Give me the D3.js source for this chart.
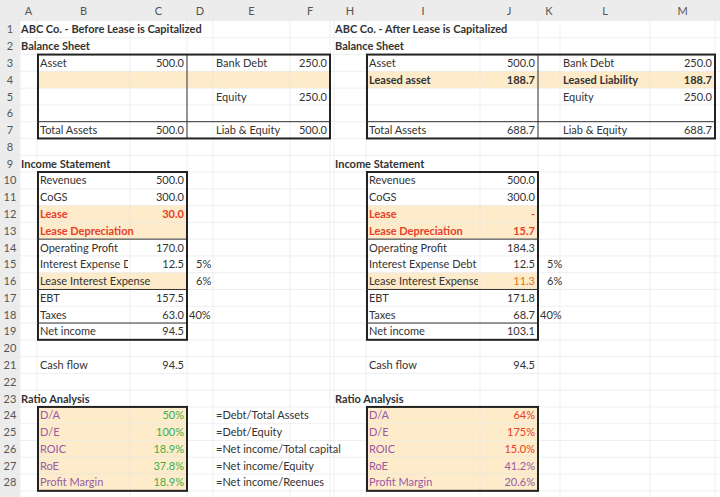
<!DOCTYPE html><html><head><meta charset="utf-8">
<script src="https://cdn.jsdelivr.net/npm/d3@7"></script>
<style>body{margin:0;background:#fff}text{font-family:Lato,"Open Sans",sans-serif;font-size:11px}</style></head><body>
<svg id="c" width="720" height="497"></svg>
<script>
const colLetters=["A","B","C","D","E","F","G","H","I","J","K","L","M"];
const colEdges=[20,37,130,187,213,290,330,334,366,480,538,560,650,715];
const titles=[["A",1,"ABC Co. - Before Lease is Capitalized"],["A",2,"Balance Sheet"],["A",9,"Income Statement"],["A",23,"Ratio Analysis"],
 ["H",1,"ABC Co. - After Lease is Capitalized"],["H",2,"Balance Sheet"],["H",9,"Income Statement"],["H",23,"Ratio Analysis"]];
const bsLeftLabels=["Asset","","","","Total Assets"], bsLeftValues=["500.0","","","","500.0"];
const bsLeftLiab=["Bank Debt","","Equity","","Liab & Equity"], bsLeftLiabV=["250.0","","250.0","","500.0"];
const bsRightLabels=["Asset","Leased asset","","","Total Assets"], bsRightValues=["500.0","188.7","","","688.7"];
const bsRightLiab=["Bank Debt","Leased Liability","Equity","","Liab & Equity"], bsRightLiabV=["250.0","188.7","250.0","","688.7"];
const isLabels=["Revenues","CoGS","Lease","Lease Depreciation","Operating Profit","Interest Expense Debt","Lease Interest Expense","EBT","Taxes","Net income"];
const isLeftValues=["500.0","300.0","30.0","","170.0","12.5","","157.5","63.0","94.5"];
const isRightValues=["500.0","300.0","-","15.7","184.3","12.5","11.3","171.8","68.7","103.1"];
const rates=[[15,"5%"],[16,"6%"],[18,"40%"]];
const cashFlow=["94.5","94.5"];
const ratioLabels=["D/A","D/E","ROIC","RoE","Profit Margin"];
const ratioLeft=["50%","100%","18.9%","37.8%","18.9%"];
const ratioRight=["64%","175%","15.0%","41.2%","20.6%"];
const ratioFormulas=["=Debt/Total Assets","=Debt/Equity","=Net income/Total capital","=Net income/Equity","=Net income/Reenues"];

const svg=d3.select("#c");
const xs=d3.scaleOrdinal().domain(colLetters).range(colEdges.slice(0,13));
const xe=d3.scaleOrdinal().domain(colLetters).range(colEdges.slice(1));
const rows=d3.range(1,29);
const y=d3.scaleBand().domain(rows).range([21,21+28*16.78]);
const H=y.bandwidth();
const RED="#e8402a",PUR="#9a5aa8",GRN="#3fae49",HL="#fdebc9",TXT="#333";

function hl(c1,c2,r){svg.append("rect").attr("x",xs(c1)).attr("y",y(r)).attr("width",xe(c2)-xs(c1)).attr("height",H).attr("fill",HL);}
hl("B","F",4);hl("I","M",4);[12,13,16].forEach(r=>{hl("B","C",r);hl("I","J",r);});
d3.range(24,29).forEach(r=>{hl("B","C",r);hl("I","J",r);});
const g=svg.append("g").attr("stroke","#e4e4e4").attr("stroke-width",0.6);
colEdges.forEach(x=>g.append("line").attr("x1",x).attr("x2",x).attr("y1",0).attr("y2",497));
rows.forEach(r=>g.append("line").attr("x1",0).attr("x2",720).attr("y1",y(r)+H).attr("y2",y(r)+H));
svg.append("rect").attr("x",0).attr("y",0).attr("width",720).attr("height",21).attr("fill","#ececec");
svg.append("rect").attr("x",0).attr("y",0).attr("width",20).attr("height",497).attr("fill","#ececec");
colLetters.forEach(c=>svg.append("text").attr("x",(xs(c)+xe(c))/2).attr("y",15).attr("text-anchor","middle").attr("fill","#555").text(c==="G"?"":c));
rows.forEach(r=>svg.append("text").attr("x",10).attr("y",y(r)+H/2+4).attr("text-anchor","middle").attr("fill","#555").text(r));
const defs=svg.append("defs");
["B","I"].forEach(c=>defs.append("clipPath").attr("id","clip"+c).append("rect").attr("x",xs(c)).attr("y",0).attr("width",xe(c)-xs(c)-2).attr("height",497));
function T(c,r,t,o={}){const e=svg.append("text").attr("y",y(r)+H/2+4).attr("fill",o.fill||TXT).attr("font-weight",o.bold?"bold":null).text(t);
 if(o.right){e.attr("x",xe(o.right)-3).attr("text-anchor","end");}else e.attr("x",xs(c)+(o.pad==null?3:o.pad));
 if(o.clip)e.attr("clip-path","url(#clip"+o.clip+")");return e;}
titles.forEach(([c,r,t])=>T(c,r,t,{bold:true,pad:1}));
bsLeftLabels.forEach((t,i)=>{T("B",3+i,t);T("C",3+i,bsLeftValues[i],{right:"C"});T("E",3+i,bsLeftLiab[i]);T("F",3+i,bsLeftLiabV[i],{right:"F"});});
bsRightLabels.forEach((t,i)=>{const b=i===1;T("I",3+i,t,{bold:b});T("J",3+i,bsRightValues[i],{right:"J",bold:b});T("L",3+i,bsRightLiab[i],{bold:b});T("M",3+i,bsRightLiabV[i],{right:"M",bold:b});});
isLabels.forEach((t,i)=>{const r=10+i;const red=(i===2||i===3);
 T("B",r,t,{fill:red?RED:TXT,bold:red,clip:isLeftValues[i]?"B":null});T("C",r,isLeftValues[i],{right:"C",fill:red?RED:TXT,bold:red});
 T("I",r,t,{fill:red?RED:TXT,bold:red,clip:isRightValues[i]?"I":null});T("J",r,isRightValues[i],{right:"J",fill:red?RED:(i===6?"#e8742a":TXT),bold:red});});
rates.forEach(([r,t])=>{T("D",r,t,{pad:r===18?2:9});T("K",r,t,{pad:r===18?2:9});});
T("B",21,"Cash flow");T("C",21,cashFlow[0],{right:"C"});T("I",21,"Cash flow");T("J",21,cashFlow[1],{right:"J"});
ratioLabels.forEach((t,i)=>{const r=24+i;T("B",r,t,{fill:PUR});T("C",r,ratioLeft[i],{right:"C",fill:GRN});
 T("I",r,t,{fill:PUR});T("J",r,ratioRight[i],{right:"J",fill:i<3?RED:PUR});T("E",r,ratioFormulas[i],{pad:3});});
function box(c1,c2,r1,r2){svg.append("rect").attr("x",xs(c1)+1).attr("y",y(r1)).attr("width",xe(c2)-xs(c1)-1).attr("height",y(r2)+H-y(r1)).attr("fill","none").attr("stroke","#222").attr("stroke-width",2);}
function hline(c1,c2,r){svg.append("line").attr("x1",xs(c1)).attr("x2",xe(c2)).attr("y1",y(r)).attr("y2",y(r)).attr("stroke","#333").attr("stroke-width",1);}
function vline(c,r1,r2){svg.append("line").attr("x1",xe(c)).attr("x2",xe(c)).attr("y1",y(r1)).attr("y2",y(r2)+H).attr("stroke","#333").attr("stroke-width",1);}
[["B","F","C"],["I","M","J"]].forEach(([a,b,m])=>{box(a,b,3,7);hline(a,b,7);vline(m,3,7);});
[["B","C"],["I","J"]].forEach(([a,b])=>{box(a,b,10,19);hline(a,b,14);hline(a,b,17);hline(a,b,19);box(a,b,24,28);});
</script></body></html>
